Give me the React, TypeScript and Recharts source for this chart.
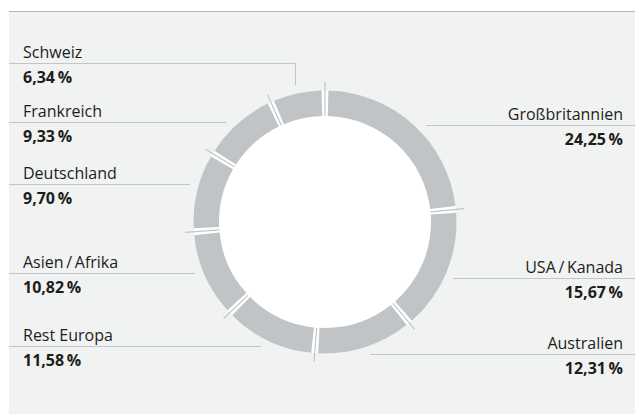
import { PieChart, Pie, Cell } from "recharts";

const regions = [
  "Großbritannien",
  "USA\u2009/\u2009Kanada",
  "Australien",
  "Rest Europa",
  "Asien\u2009/\u2009Afrika",
  "Deutschland",
  "Frankreich",
  "Schweiz",
];
const shares = [24.25, 15.67, 12.31, 11.58, 10.82, 9.7, 9.33, 6.34];

// y of the rule under each label name (label layout, same order as regions)
const labelRuleY = [125, 278, 354, 346, 273, 184, 122, 63];

const data = regions.map((name, i) => ({ name, value: shares[i] }));

const W = 635;
const H = 414;
const PAD = 3;
const SLICE = "#c1c4c6";
const RULE = "#c3c6c8";
const INK = "#1d1d1b";
const FONT = "'Open Sans', sans-serif";
const LEAD_R = 140;
const SEP_OUT = 140;
const LEFT_EDGE = 9;
const LEFT_TEXT = 23;
const RIGHT_TEXT = 623;

const fmt = (v: number) => v.toFixed(2).replace(".", ",") + "\u2009%";

const RAD = Math.PI / 180;

function ShareLabel(props: any) {
  const { cx, cy, midAngle, startAngle, innerRadius, index } = props;
  const b = startAngle + PAD / 2;
  const cb = Math.cos(b * RAD);
  const sb = Math.sin(b * RAD);
  const sep = (
    <line
      x1={cx + innerRadius * cb}
      y1={cy - innerRadius * sb}
      x2={cx + SEP_OUT * cb}
      y2={cy - SEP_OUT * sb}
      stroke={RULE}
      strokeWidth={1.2}
    />
  );

  const cm = Math.cos(midAngle * RAD);
  const sm = Math.sin(midAngle * RAD);
  const left = cm < 0;
  const ry = labelRuleY[index] + 0.5;
  const edge = left ? LEFT_EDGE : W;
  const dy = ry - cy;
  let d: string;
  if (Math.abs(dy) < LEAD_R) {
    const ex = cx + (left ? -1 : 1) * Math.sqrt(LEAD_R * LEAD_R - dy * dy);
    d = `M${edge},${ry}H${ex}`;
  } else {
    const ax = cx + LEAD_R * cm;
    const ay = cy - LEAD_R * sm;
    d = `M${edge},${ry}H${ax}V${ay}`;
  }
  const tx = left ? LEFT_TEXT : RIGHT_TEXT;
  const anchor = left ? "start" : "end";
  return (
    <g>
      {sep}
      <path d={d} stroke={RULE} strokeWidth={1} fill="none" />
      <text x={tx} y={ry - 6} textAnchor={anchor} fontSize={16} fontFamily={FONT} fill={INK}>
        {regions[index]}
      </text>
      <text x={tx} y={ry + 19} textAnchor={anchor} fontSize={16} fontWeight={700} fontFamily={FONT} fill={INK}>
        {fmt(shares[index])}
      </text>
    </g>
  );
}

export default function App() {
  return (
    <div style={{ position: "absolute", left: 0, top: 0, width: W, height: H, background: "#fff" }}>
      <div
        style={{
          position: "absolute",
          left: 9,
          top: 11,
          width: W - 9,
          height: H - 12,
          background: "#f1f2f2",
          borderTop: "1px solid #b4b6b7",
        }}
      />
      <div style={{ position: "absolute", left: 0, top: 0 }}>
        <PieChart width={W} height={H} margin={{ top: 0, right: 0, bottom: 0, left: 0 }}>
          <Pie
            data={[{ name: "bg", value: 1 }]}
            dataKey="value"
            cx={325}
            cy={222}
            innerRadius={0}
            outerRadius={131.5}
            fill="#ffffff"
            stroke="none"
            isAnimationActive={false}
            label={false}
          />
          <Pie
            data={data}
            dataKey="value"
            nameKey="name"
            cx={325}
            cy={222}
            innerRadius={106}
            outerRadius={131.5}
            startAngle={90 - PAD / 2}
            endAngle={-270 - PAD / 2}
            paddingAngle={PAD}
            stroke="none"
            isAnimationActive={false}
            labelLine={false}
            label={ShareLabel}
          >
            {data.map((d) => (
              <Cell key={d.name} fill={SLICE} />
            ))}
          </Pie>
        </PieChart>
      </div>
    </div>
  );
}
